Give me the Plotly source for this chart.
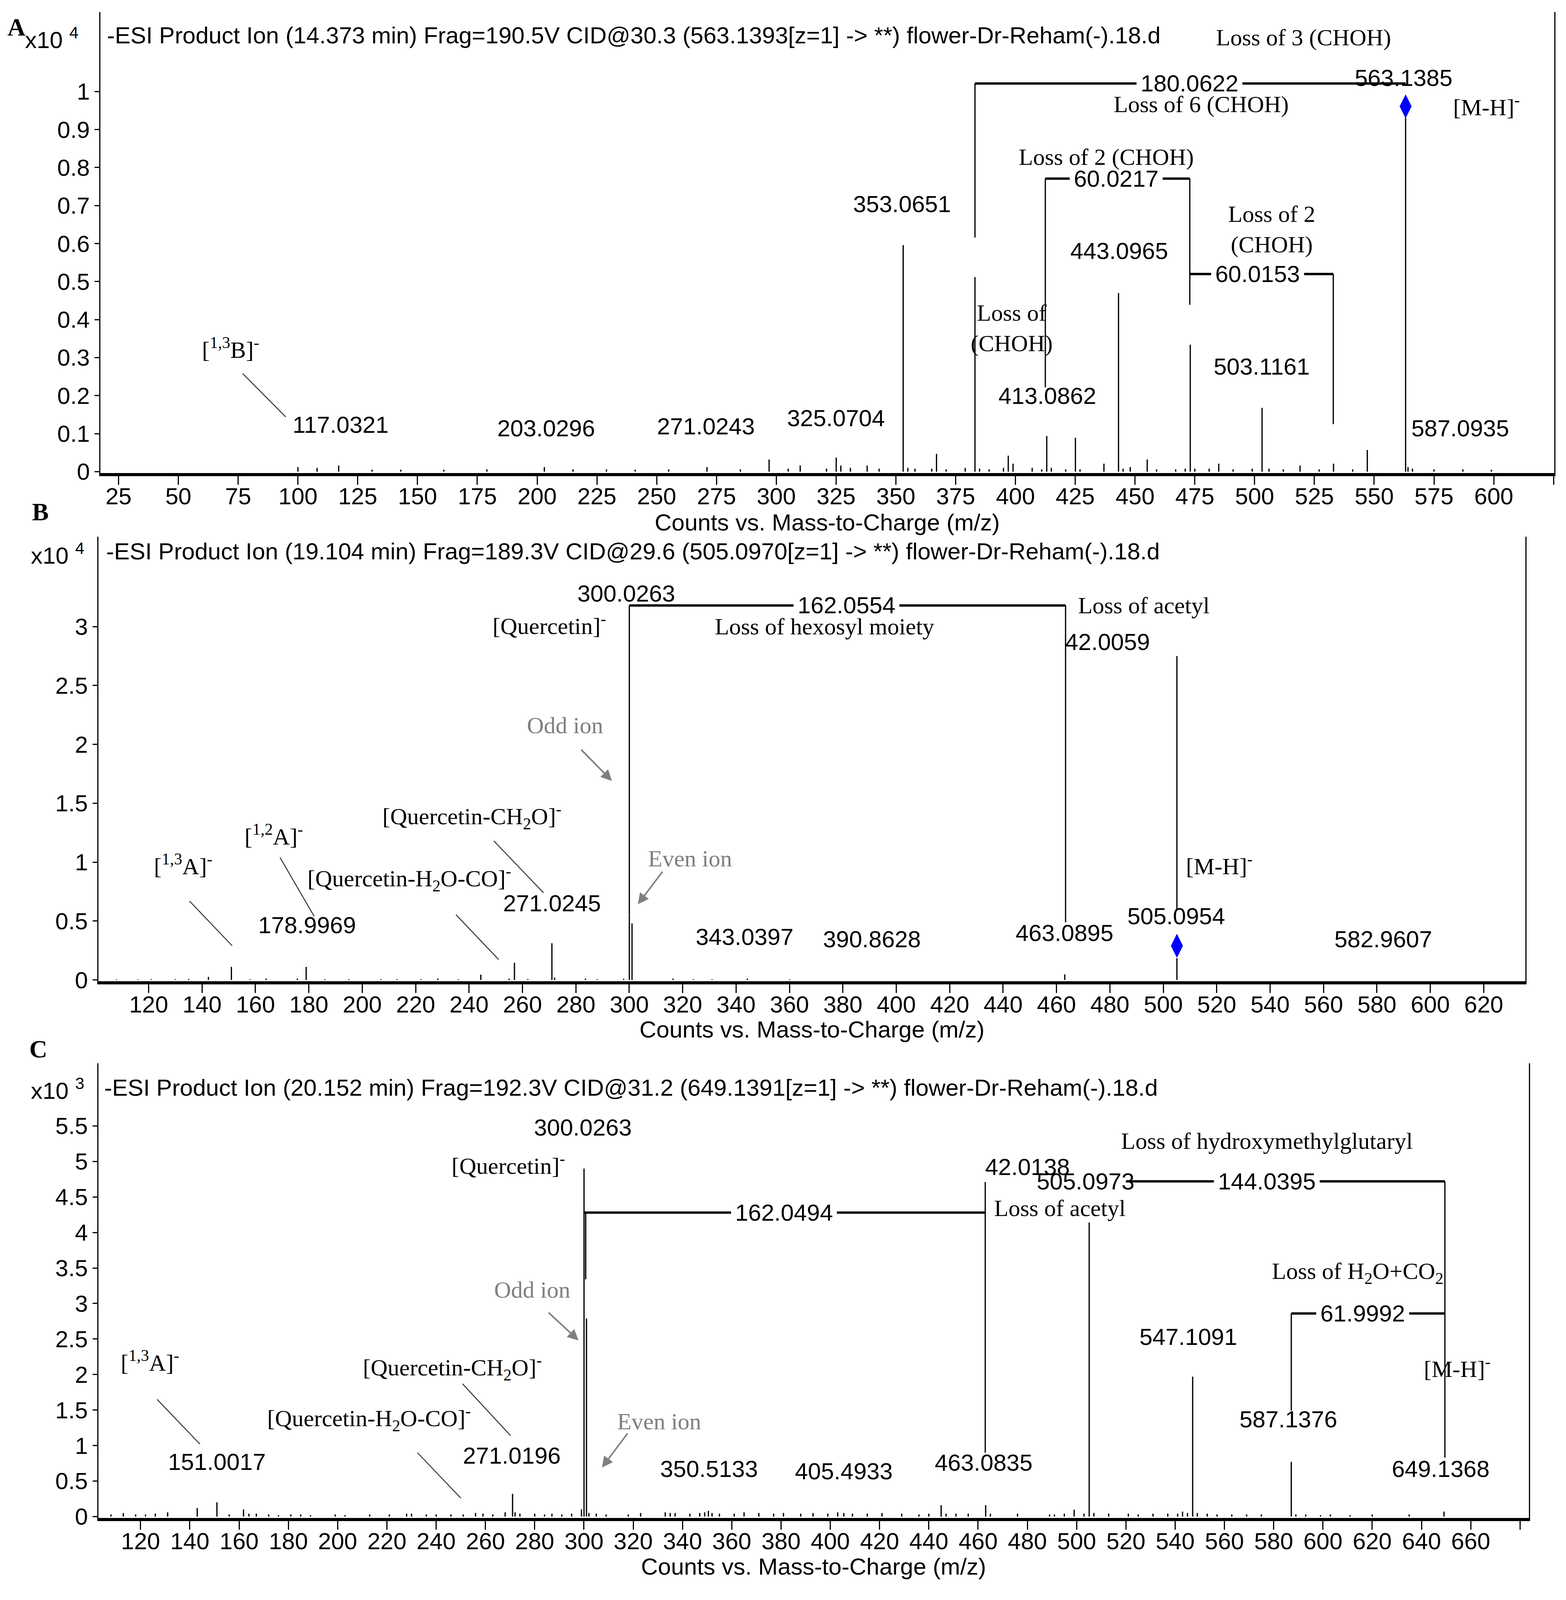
import plotly.graph_objects as go

W, H = 4009, 4311
SANS = "Liberation Sans, Arial, Helvetica, sans-serif"
SERIF = "Liberation Serif, Times New Roman, Times, serif"
GRAY = "#7f7f7f"

# ---------------- Panel A : m/z 563 (counts x10^4) ----------------
a_mz = [100.0, 108.0, 117.03, 131.0, 143.0, 161.0, 179.0, 203.03, 215.0, 229.0, 241.0, 255.0,
        271.02, 285.0, 297.0, 305.0, 310.0, 321.0, 325.07, 327.0, 331.0, 338.0, 343.0, 353.07,
        355.0, 358.0, 365.0, 367.0, 371.0, 379.0, 383.08, 385.0, 389.0, 395.0, 397.0, 399.0,
        407.0, 411.0, 413.09, 415.0, 421.0, 425.08, 427.0, 437.0, 443.10, 445.0, 448.0, 455.1,
        459.0, 467.0, 471.0, 473.10, 475.0, 481.0, 485.0, 491.0, 499.0, 503.12, 506.0, 512.0,
        519.0, 527.0, 533.0, 541.0, 547.12, 563.14, 564.14, 566.0, 575.0, 587.09, 599.0]
a_int = [0.012, 0.010, 0.016, 0.005, 0.005, 0.005, 0.006, 0.012, 0.006, 0.006, 0.005, 0.006,
         0.012, 0.006, 0.032, 0.008, 0.016, 0.008, 0.037, 0.016, 0.010, 0.016, 0.008, 0.596,
         0.010, 0.008, 0.008, 0.047, 0.006, 0.010, 0.512, 0.008, 0.006, 0.010, 0.042, 0.021,
         0.010, 0.006, 0.094, 0.010, 0.006, 0.089, 0.006, 0.021, 0.470, 0.008, 0.012, 0.032,
         0.006, 0.006, 0.008, 0.334, 0.008, 0.008, 0.021, 0.006, 0.008, 0.168, 0.008, 0.006,
         0.016, 0.006, 0.021, 0.006, 0.057, 0.931, 0.012, 0.008, 0.006, 0.006, 0.005]
a_prec_mz = [563.1385]
a_prec_int = [0.961]
a_xticks = [25, 50, 75, 100, 125, 150, 175, 200, 225, 250, 275, 300, 325, 350, 375, 400, 425,
            450, 475, 500, 525, 550, 575, 600, 625]
a_yticks = [0, 0.1, 0.2, 0.3, 0.4, 0.5, 0.6, 0.7, 0.8, 0.9, 1]

# ---------------- Panel B : m/z 505 (counts x10^4) ----------------
b_mz = [108, 116, 121, 130, 135, 142.4, 151.0, 158, 164, 175.7, 179.0, 186, 195, 207, 213, 222,
        228.3, 236, 244.4, 255.0, 257.0, 262, 271.0245, 272.03, 283.6, 288, 297.9, 300.0263,
        301.03, 316.4, 324, 331, 344.2, 360, 463.0895, 505.0954]
b_int = [0.005, 0.005, 0.006, 0.006, 0.008, 0.026, 0.111, 0.006, 0.012, 0.012, 0.111, 0.006,
         0.006, 0.006, 0.006, 0.006, 0.012, 0.006, 0.045, 0.012, 0.146, 0.008, 0.312, 0.020,
         0.012, 0.006, 0.010, 0.549, 0.480, 0.012, 0.006, 0.006, 0.012, 0.005, 0.047, 0.185]
b_prec_mz = [505.0954]
b_prec_int = [0.29]
b_xticks = list(range(120, 621, 20))
b_yticks = [0, 0.5, 1, 1.5, 2, 2.5, 3]

# ---------------- Panel C : m/z 649 (counts x10^3) ----------------
c_mz = [108, 113, 118, 122, 126, 131, 143, 151.0017, 156, 161.8, 164, 167, 172, 176, 181, 185,
        189, 199, 203, 213, 221, 228, 230, 236, 240, 246, 251, 256, 259, 263, 268, 271.0196,
        272.03, 274, 280, 284, 287, 291, 295, 299, 300.0263, 301.03, 302, 305, 309, 318, 323,
        333, 335, 337, 343, 347, 349, 350.5133, 352, 355, 361, 365, 371, 377, 381, 388, 393,
        399, 403, 405.4933, 409, 415, 421, 429, 436, 440, 445, 447, 451, 456, 463.0835, 465,
        476, 489, 491, 495, 499, 503, 505.0973, 507, 513, 521, 525, 531, 537, 541, 543, 545,
        547.1091, 549, 553, 557, 563, 569, 575, 587.1376, 589, 593, 599, 603, 611, 620, 635,
        649.1368]
c_int = [0.03, 0.05, 0.03, 0.03, 0.04, 0.06, 0.12, 0.20, 0.03, 0.10, 0.04, 0.04, 0.03, 0.02,
         0.03, 0.03, 0.02, 0.03, 0.02, 0.03, 0.03, 0.04, 0.04, 0.03, 0.03, 0.03, 0.03, 0.05,
         0.04, 0.03, 0.06, 0.32, 0.06, 0.04, 0.04, 0.03, 0.04, 0.03, 0.04, 0.10, 4.90, 2.79,
         0.05, 0.04, 0.03, 0.03, 0.05, 0.06, 0.05, 0.05, 0.04, 0.05, 0.06, 0.08, 0.05, 0.04,
         0.04, 0.06, 0.05, 0.04, 0.05, 0.04, 0.05, 0.04, 0.06, 0.05, 0.04, 0.04, 0.05, 0.04,
         0.03, 0.04, 0.16, 0.04, 0.04, 0.04, 0.16, 0.04, 0.04, 0.03, 0.03, 0.04, 0.095, 0.04,
         4.14, 0.05, 0.04, 0.04, 0.03, 0.04, 0.04, 0.04, 0.07, 0.05, 1.97, 0.05, 0.04, 0.03,
         0.03, 0.03, 0.03, 0.77, 0.03, 0.03, 0.02, 0.03, 0.02, 0.03, 0.03, 0.07]
c_xticks = list(range(120, 681, 20))
c_yticks = [0, 0.5, 1, 1.5, 2, 2.5, 3, 3.5, 4, 4.5, 5, 5.5]

titles = [
    "-ESI Product Ion (14.373 min) Frag=190.5V CID@30.3 (563.1393[z=1] -&gt; **) flower-Dr-Reham(-).18.d",
    "-ESI Product Ion (19.104 min) Frag=189.3V CID@29.6 (505.0970[z=1] -&gt; **) flower-Dr-Reham(-).18.d",
    "-ESI Product Ion (20.152 min) Frag=192.3V CID@31.2 (649.1391[z=1] -&gt; **) flower-Dr-Reham(-).18.d",
]
exponents = ["4", "4", "3"]
letters = ["A", "B", "C"]

# ---------------- layout geometry (pixels of the 4009x4311 page) ----------------
boxes = [(257, 3979, 33, 1284), (252, 3905, 1457, 2664), (252, 3914, 2887, 4121)]
xranges = [(17.4, 625.3), (101.2, 635.6), (102.9, 683.6)]
yranges = [(-0.0034, 1.2088), (-0.011, 3.764), (-0.019, 6.381)]
tick_lists = [(a_xticks, a_yticks), (b_xticks, b_yticks), (c_xticks, c_yticks)]
hidden_xtick = [625, None, 680]


def px(x):
    return x / W


def py(y):
    return 1 - y / H


fig = go.Figure()
FS = 60


def peak_trace(mz, inten, k):
    xs, ys = [], []
    for m, h in zip(mz, inten):
        xs += [m, m, None]
        ys += [0, h, None]
    ax = "" if k == 0 else str(k + 1)
    return go.Scatter(x=xs, y=ys, mode="lines", line=dict(color="black", width=3.2),
                      xaxis="x" + ax, yaxis="y" + ax, hoverinfo="skip", showlegend=False)


fig.add_trace(peak_trace(a_mz, a_int, 0))
fig.add_trace(peak_trace(b_mz, b_int, 1))
fig.add_trace(peak_trace(c_mz, c_int, 2))
fig.add_trace(go.Scatter(x=a_prec_mz, y=a_prec_int, mode="markers", xaxis="x", yaxis="y",
                         marker=dict(symbol="diamond-tall", size=44, color="#0000ff"),
                         hoverinfo="skip", showlegend=False))
fig.add_trace(go.Scatter(x=b_prec_mz, y=b_prec_int, mode="markers", xaxis="x2", yaxis="y2",
                         marker=dict(symbol="diamond-tall", size=44, color="#0000ff"),
                         hoverinfo="skip", showlegend=False))

layout = dict(width=W, height=H, margin=dict(l=0, r=0, t=0, b=0),
              paper_bgcolor="white", plot_bgcolor="white", showlegend=False)

for k in range(3):
    l, r, t, b = boxes[k]
    xt, yt = tick_lists[k]
    xtext = ["" if v == hidden_xtick[k] else str(v) for v in xt]
    ytext = [("%g" % v) for v in yt]
    sfx = "" if k == 0 else str(k + 1)
    layout["xaxis" + sfx] = dict(
        domain=[px(l), px(r)], range=list(xranges[k]), anchor="y" + sfx,
        showgrid=False, zeroline=False, showline=True, linecolor="black", linewidth=8,
        ticks="outside", ticklen=22, tickwidth=3, tickcolor="black", ticklabelstandoff=-22,
        tickvals=xt, ticktext=xtext, tickfont=dict(family=SANS, size=FS, color="black"))
    layout["yaxis" + sfx] = dict(
        domain=[py(b), py(t)], range=list(yranges[k]), anchor="x" + sfx,
        showgrid=False, zeroline=False, showline=True, linecolor="black", linewidth=3,
        mirror=True, ticks="outside", ticklen=12, tickwidth=3, tickcolor="black",
        tickvals=yt, ticktext=ytext, tickfont=dict(family=SANS, size=FS, color="black"))

fig.update_layout(**layout)

annotations = []
shapes = []


def refs(k):
    s = "" if k == 0 else str(k + 1)
    return "x" + s, "y" + s


def txt(k, text, x, y, font=SANS, color="black", bg=None, size=FS):
    xr, yr = refs(k)
    d = dict(text=text, x=x, y=y, xref=xr, yref=yr, showarrow=False,
             xanchor="center", yanchor="middle",
             font=dict(family=font, size=size, color=color))
    if bg:
        d["bgcolor"] = "white"
        d["borderpad"] = 10
    annotations.append(d)


def seg(k, x0, y0, x1, y1, w=3.2, color="black"):
    xr, yr = refs(k)
    shapes.append(dict(type="line", xref=xr, yref=yr, x0=x0, y0=y0, x1=x1, y1=y1,
                       line=dict(color=color, width=w)))


def arrow(k, tx, ty, hx, hy):
    xr, yr = refs(k)
    annotations.append(dict(text="", x=hx, y=hy, ax=tx, ay=ty, xref=xr, yref=yr,
                            axref=xr, ayref=yr, showarrow=True, arrowhead=2,
                            arrowsize=1.4, arrowwidth=4, arrowcolor=GRAY))


# ---- Panel A annotations ----
seg(0, 383.08, 1.021, 563.14, 1.021, 6)
seg(0, 383.08, 1.021, 383.08, 0.616)
seg(0, 412.5, 0.771, 472.9, 0.771, 6)
seg(0, 412.5, 0.771, 412.5, 0.222)
seg(0, 472.9, 0.771, 472.9, 0.439)
seg(0, 472.9, 0.520, 532.9, 0.520, 6)
seg(0, 532.9, 0.520, 532.9, 0.125)
seg(0, 76.9, 0.258, 94.9, 0.144, 2.5, "#333333")

for t_, x_, y_ in [("117.0321", 117.9, 0.123), ("203.0296", 203.7, 0.114),
                   ("271.0243", 270.6, 0.119), ("325.0704", 325.0, 0.141),
                   ("353.0651", 352.5, 0.704), ("413.0862", 413.3, 0.199),
                   ("443.0965", 443.3, 0.581), ("503.1161", 503.0, 0.276),
                   ("563.1385", 562.3, 1.036), ("587.0935", 586.0, 0.114)]:
    txt(0, t_, x_, y_)
for t_, x_, y_ in [("180.0622", 472.7, 1.021), ("60.0217", 442.2, 0.771),
                   ("60.0153", 501.2, 0.520)]:
    txt(0, t_, x_, y_, bg=True)
for t_, x_, y_ in [("Loss of 3 (CHOH)", 520.4, 1.142), ("Loss of 6 (CHOH)", 477.7, 0.966),
                   ("Loss of 2 (CHOH)", 438.0, 0.828), ("Loss of 2<br>(CHOH)", 507.1, 0.638),
                   ("Loss of<br>(CHOH)", 398.5, 0.378),
                   ("[<sup>1,3</sup>B]<sup>-</sup>", 71.8, 0.325),
                   ("[M-H]<sup>-</sup>", 596.9, 0.963)]:
    txt(0, t_, x_, y_, font=SERIF)

# ---- Panel B annotations ----
seg(1, 300.03, 3.18, 463.4, 3.18, 6)
seg(1, 300.03, 3.18, 300.03, 0.55)
seg(1, 463.4, 3.18, 463.4, 0.49)
seg(1, 505.1, 2.75, 505.1, 0.60)
seg(1, 135.3, 0.67, 151.3, 0.29, 2.5, "#333333")
seg(1, 169.2, 1.04, 182.0, 0.54, 2.5, "#333333")
seg(1, 249.3, 1.18, 267.9, 0.74, 2.5, "#333333")
seg(1, 235.1, 0.554, 251.1, 0.173, 2.5, "#333333")
arrow(1, 281.8, 1.96, 293.5, 1.69)
arrow(1, 312.6, 0.924, 303.2, 0.642)

for t_, x_, y_ in [("300.0263", 298.9, 3.28), ("178.9969", 179.3, 0.465),
                   ("271.0245", 271.1, 0.649), ("343.0397", 343.2, 0.367),
                   ("390.8628", 390.9, 0.345), ("463.0895", 463.0, 0.40),
                   ("505.0954", 504.8, 0.54), ("582.9607", 582.4, 0.345),
                   ("42.0059", 479.2, 2.87)]:
    txt(1, t_, x_, y_)
txt(1, "162.0554", 381.4, 3.18, bg=True)
for t_, x_, y_ in [("[Quercetin]<sup>-</sup>", 270.1, 3.02),
                   ("Loss of hexosyl moiety", 373.2, 3.00),
                   ("Loss of acetyl", 492.8, 3.18),
                   ("[<sup>1,2</sup>A]<sup>-</sup>", 166.9, 1.23),
                   ("[Quercetin-CH<sub>2</sub>O]<sup>-</sup>", 241.1, 1.39),
                   ("[<sup>1,3</sup>A]<sup>-</sup>", 133.0, 0.98),
                   ("[Quercetin-H<sub>2</sub>O-CO]<sup>-</sup>", 217.6, 0.861),
                   ("[M-H]<sup>-</sup>", 521.0, 0.98)]:
    txt(1, t_, x_, y_, font=SERIF)
txt(1, "Odd ion", 276.0, 2.16, font=SERIF, color=GRAY)
txt(1, "Even ion", 322.7, 1.03, font=SERIF, color=GRAY)

# ---- Panel C annotations ----
seg(2, 300.03, 4.28, 462.9, 4.28, 6)
seg(2, 300.7, 4.28, 300.7, 3.34)
seg(2, 462.9, 4.71, 462.9, 0.90)
seg(2, 520.0, 4.72, 649.5, 4.72, 6)
seg(2, 649.5, 4.72, 649.5, 0.83)
seg(2, 587.14, 2.86, 649.5, 2.86, 6)
seg(2, 587.14, 2.86, 587.14, 1.49)
seg(2, 126.7, 1.65, 144.1, 1.02, 2.5, "#333333")
seg(2, 250.7, 1.87, 270.2, 1.14, 2.5, "#333333")
seg(2, 232.4, 0.90, 250.0, 0.26, 2.5, "#333333")
arrow(2, 285.4, 2.88, 297.8, 2.48)
arrow(2, 317.9, 1.18, 307.3, 0.69)

for t_, x_, y_ in [("300.0263", 299.6, 5.48), ("42.0138", 480.0, 4.92),
                   ("505.0973", 503.6, 4.72), ("547.1091", 545.4, 2.53),
                   ("587.1376", 585.9, 1.37), ("649.1368", 647.7, 0.67),
                   ("151.0017", 150.9, 0.77), ("271.0196", 270.6, 0.86),
                   ("350.5133", 350.8, 0.67), ("405.4933", 405.5, 0.64),
                   ("463.0835", 462.3, 0.76)]:
    txt(2, t_, x_, y_)
for t_, x_, y_ in [("162.0494", 381.2, 4.28), ("144.0395", 577.2, 4.72),
                   ("61.9992", 616.2, 2.86)]:
    txt(2, t_, x_, y_, bg=True)
for t_, x_, y_ in [("[Quercetin]<sup>-</sup>", 269.3, 4.96),
                   ("Loss of hydroxymethylglutaryl", 577.2, 5.29),
                   ("Loss of acetyl", 493.3, 4.34),
                   ("Loss of H<sub>2</sub>O+CO<sub>2</sub>", 614.1, 3.43),
                   ("[M-H]<sup>-</sup>", 654.5, 2.10),
                   ("[<sup>1,3</sup>A]<sup>-</sup>", 123.8, 2.19),
                   ("[Quercetin-CH<sub>2</sub>O]<sup>-</sup>", 246.5, 2.10),
                   ("[Quercetin-H<sub>2</sub>O-CO]<sup>-</sup>", 212.7, 1.38)]:
    txt(2, t_, x_, y_, font=SERIF)
txt(2, "Odd ion", 279.0, 3.19, font=SERIF, color=GRAY)
txt(2, "Even ion", 330.5, 1.34, font=SERIF, color=GRAY)

# ---- panel titles, exponent labels, letters, axis titles (paper coords) ----
title_pos = [(272, 96), (270, 1497), (265, 2953)]
exp_pos = [(62, 104), (77, 1504), (77, 2957)]
letter_pos = [(42, 74), (103, 1390), (98, 2848)]
xlabel_y = [1418, 2795, 4253]
for k in range(3):
    annotations.append(dict(text=titles[k], x=px(title_pos[k][0]), y=py(title_pos[k][1]),
                            xref="paper", yref="paper", showarrow=False, xanchor="left",
                            yanchor="middle", font=dict(family=SANS, size=FS, color="black")))
    annotations.append(dict(text="x10 <sup>" + exponents[k] + "</sup>",
                            x=px(exp_pos[k][0]), y=py(exp_pos[k][1]),
                            xref="paper", yref="paper", showarrow=False, xanchor="left",
                            yanchor="middle", font=dict(family=SANS, size=FS, color="black")))
    annotations.append(dict(text="<b>" + letters[k] + "</b>", x=px(letter_pos[k][0]),
                            y=py(letter_pos[k][1]), xref="paper", yref="paper",
                            showarrow=False, xanchor="center", yanchor="middle",
                            font=dict(family=SERIF, size=64, color="black")))
    l, r, t, b = boxes[k]
    annotations.append(dict(text="Counts vs. Mass-to-Charge (m/z)", x=px((l + r) / 2),
                            y=py(xlabel_y[k]), xref="paper", yref="paper", showarrow=False,
                            xanchor="center", yanchor="middle",
                            font=dict(family=SANS, size=FS, color="black")))

fig.update_layout(annotations=annotations, shapes=shapes)

# fit the figure to the browser viewport (no page margin, no scrollbars)
fit_js = """
var gd = document.getElementById('{plot_id}');
var de = document.documentElement, bd = document.body;
de.style.margin = '0'; de.style.padding = '0'; de.style.overflow = 'hidden';
bd.style.margin = '0'; bd.style.padding = '0'; bd.style.overflow = 'hidden';
var w = de.clientWidth || window.innerWidth;
var h = window.innerHeight || de.clientHeight;
return Plotly.relayout(gd, {width: w, height: h});
"""
fig.write_html("out.html", post_script=fit_js, config={"displayModeBar": False})
